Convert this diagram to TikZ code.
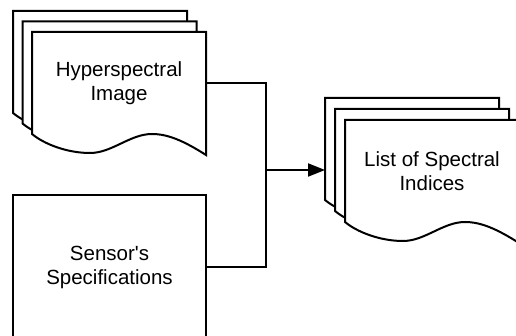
\documentclass[tikz,border=0pt]{standalone}
\usepackage{fontspec}
\newfontfamily\lsans{Liberation Sans}
\usepackage{tikz}
\usetikzlibrary{
arrows.meta,
positioning,
calc
}

% one sheet of a document stack, top-left corner at (#1,#2)
\newcommand{\docsheet}[2]{%
  \begin{scope}[shift={(#1,#2)}]
    \draw[sheet] (0,0) -- (174,0) -- (174,123)
      .. controls (152,109) and (136,102) .. (120,102)
      .. controls (98,102) and (80,121) .. (58,121)
      .. controls (35,121) and (12,112) .. (0,102) -- cycle;
  \end{scope}}

\begin{document}
\begin{tikzpicture}[
  x=1pt, y=-1pt,
  sheet/.style={draw, line width=2pt, fill=white, line join=miter},
  doc/.style={minimum width=174pt, minimum height=102pt, inner sep=0pt, outer sep=0pt, align=center,
    font=\lsans\fontsize{20.5}{24}\selectfont},
  box/.style={draw, line width=2pt, fill=white, minimum width=193pt, minimum height=144pt, inner sep=0pt,
    outer sep=0pt, align=center, font=\lsans\fontsize{20.5}{24}\selectfont},
  wire/.style={line width=2pt},
  >={Triangle[length=17pt, width=13pt]}
]
  \useasboundingbox (0,0) rectangle (516,336);

  % Input: hyperspectral image stack
  \docsheet{13}{11}
  \docsheet{22.5}{21.5}
  \docsheet{32}{32}
  \node[doc] (hsi) at (119,83) {Hyperspectral\\Image};

  % Input: sensor specifications
  \node[box] (sen) at (109.5,267) {Sensor's\\Specifications};

  % Output: list of spectral indices stack
  \docsheet{325}{98}
  \docsheet{335}{109}
  \docsheet{345}{120}
  \node[doc] (lsi3) at (412,149) {};
  \node[doc] (lsi) at (432,171) {List of Spectral\\Indices};

  % Connectors
  \coordinate (jn) at (266,170);
  \draw[wire] (hsi.east) -| (jn);
  \draw[wire] (sen.east) -| (jn);
  \draw[wire, ->] (jn) -- (jn -| lsi3.west);

\end{tikzpicture}
\end{document}
